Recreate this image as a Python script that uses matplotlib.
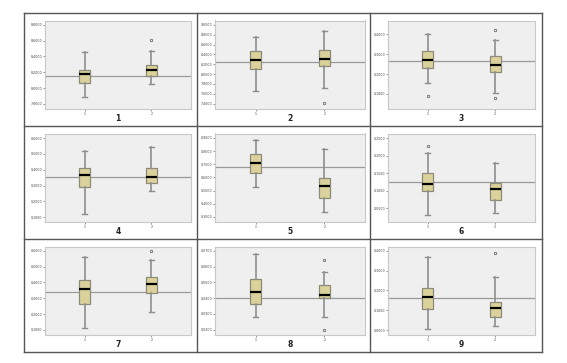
import matplotlib
matplotlib.use("Agg")
import matplotlib.pyplot as plt
from matplotlib.lines import Line2D

# ---- data (box statistics) ----
panel_labels = ["1", "2", "3", "4", "5", "6", "7", "8", "9"]
group_labels = ["1", "2"]

q1 = [[8.065, 8.153], [8.098, 8.158], [0.233, 0.211],
      [0.289, 0.315], [0.633, 0.445], [0.100, 0.074],
      [0.265, 0.331], [0.0361, 0.0401], [0.106, 0.0655]]
medians = [[8.174, 8.233], [8.286, 8.313], [0.269, 0.248],
           [0.370, 0.357], [0.712, 0.535], [0.119, 0.105],
           [0.356, 0.390], [0.0442, 0.0422], [0.165, 0.109]]
q3 = [[8.233, 8.296], [8.461, 8.488], [0.318, 0.293],
      [0.414, 0.414], [0.781, 0.596], [0.151, 0.123],
      [0.416, 0.433], [0.0520, 0.0484], [0.2125, 0.143]]
whis_lo = [[7.888, 8.056], [7.660, 7.714], [0.155, 0.104],
           [0.122, 0.264], [0.524, 0.334], [0.031, 0.038],
           [0.111, 0.212], [0.0281, 0.0281], [0.0064, 0.0182]]
whis_hi = [[8.451, 8.464], [8.744, 8.879], [0.403, 0.370],
           [0.517, 0.543], [0.884, 0.818], [0.208, 0.180],
           [0.564, 0.539], [0.0683, 0.0569], [0.371, 0.267]]
outliers = [[[], [8.603]], [[], [7.411]], [[0.092], [0.420, 0.078]],
            [[], []], [[], []], [[0.228], []],
            [[], [0.598]], [[], [0.0645, 0.0200]], [[], [0.390]]]
ref_line = [8.149, 8.239, 0.268, 0.352, 0.683, 0.125, 0.342, 0.0399, 0.160]

y_ticks = [[8.8, 8.6, 8.4, 8.2, 8.0, 7.8],
           [9.0, 8.8, 8.6, 8.4, 8.2, 8.0, 7.8, 7.6, 7.4],
           [0.4, 0.3, 0.2, 0.1],
           [0.6, 0.5, 0.4, 0.3, 0.2, 0.1],
           [0.9, 0.8, 0.7, 0.6, 0.5, 0.4, 0.3],
           [0.25, 0.20, 0.15, 0.10, 0.05],
           [0.6, 0.5, 0.4, 0.3, 0.2, 0.1],
           [0.07, 0.06, 0.05, 0.04, 0.03, 0.02],
           [0.4, 0.3, 0.2, 0.1, 0.0]]
y_limits = [(7.741, 8.855), (7.303, 9.088), (0.0265, 0.470),
            (0.0737, 0.6285), (0.265, 0.934), (0.0124, 0.263),
            (0.0703, 0.6275), (0.0170, 0.07275), (-0.0223, 0.422)]

# ---- layout (pixels) ----
W, H = 567, 363
fig = plt.figure(figsize=(W / 100, H / 100), dpi=100)

col_x = [24, 197, 370, 542]
row_y = [13, 126, 239, 352]
ax_left = [45, 215, 388]
ax_right = [191, 365, 535]

def fx(x):
    return x / W

def fy(y):
    return 1 - y / H

# grid lines of the table
for x in col_x:
    fig.add_artist(Line2D([fx(x), fx(x)], [fy(row_y[0]), fy(row_y[-1])],
                          color="#555555", lw=1.0))
for y in row_y:
    fig.add_artist(Line2D([fx(col_x[0]), fx(col_x[-1])], [fy(y), fy(y)],
                          color="#555555", lw=1.0))

box_face = "#DAD29A"
for i in range(9):
    r, c = divmod(i, 3)
    top = row_y[r] + 7.5
    bottom = top + 88
    ax = fig.add_axes([fx(ax_left[c]), fy(bottom),
                       (ax_right[c] - ax_left[c]) / W, 88 / H])
    ax.set_facecolor("#EFEFEF")
    for s in ax.spines.values():
        s.set_color("#C8C8C8")
        s.set_linewidth(0.8)
    stats = []
    for g in range(2):
        stats.append(dict(med=medians[i][g], q1=q1[i][g], q3=q3[i][g],
                          whislo=whis_lo[i][g], whishi=whis_hi[i][g],
                          fliers=outliers[i][g], label=group_labels[g]))
    ax.axhline(ref_line[i], color="#999999", lw=0.9, zorder=1)
    ax.bxp(stats, positions=[1, 2], widths=0.16, patch_artist=True,
           boxprops=dict(facecolor=box_face, edgecolor="#8C8A78", lw=0.9),
           medianprops=dict(color="black", lw=1.6),
           whiskerprops=dict(color="#8E8E8E", lw=1.2),
           capprops=dict(color="#8E8E8E", lw=1.0),
           capwidths=0.075,
           flierprops=dict(marker="o", markersize=1.8, markerfacecolor="none",
                           markeredgecolor="#555555", markeredgewidth=0.5),
           zorder=3)
    ax.set_xlim(0.41, 2.59)
    ax.set_ylim(*y_limits[i])
    ax.set_yticks(y_ticks[i])
    ax.set_yticklabels([f"{v:.4f}" for v in y_ticks[i]])
    ax.set_xticks([1, 2])
    ax.set_xticklabels(group_labels)
    ax.tick_params(axis="both", labelsize=2.3, length=1.2, width=0.4,
                   colors="#444444", pad=1)
    fig.text(fx((ax_left[c] + ax_right[c]) / 2), fy(bottom + 10),
             panel_labels[i], ha="center", va="center",
             fontsize=5.5, fontweight="bold", color="#222222")

fig.savefig("out.png", dpi=100)
